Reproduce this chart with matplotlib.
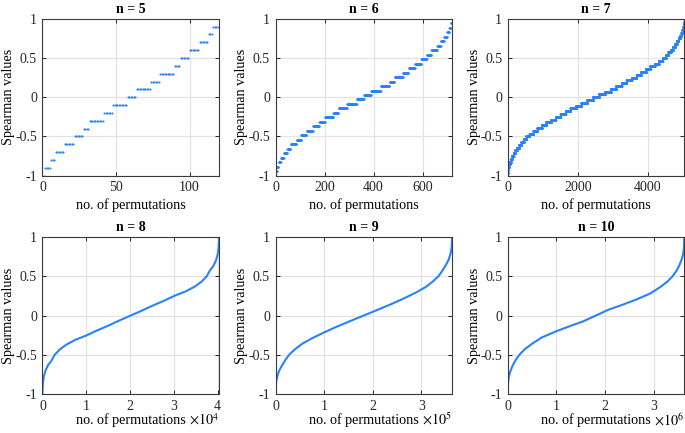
import numpy as np
import matplotlib
matplotlib.use('Agg')
import matplotlib.pyplot as plt

plt.rcParams['font.family'] = ['Liberation Serif', 'DejaVu Serif']
plt.rcParams['mathtext.fontset'] = 'stix'
plt.rcParams['axes.unicode_minus'] = False

LINE_COLOR = '#2b82f5'

# counts of permutations per Spearman level (levels ascending from -1 to 1)
counts5 = [1, 4, 3, 6, 7, 6, 4, 10, 6, 10, 6, 10, 6, 10, 4, 6, 7, 6, 3, 4, 1]
counts6 = [1, 5, 6, 9, 12, 14, 14, 24, 19, 22, 26, 26, 23, 34, 21, 35, 40, 29,
           29, 40, 35, 21, 34, 23, 26, 26, 22, 19, 24, 14, 14, 12, 9, 6, 5, 1]
counts7 = [1, 6, 10, 14, 24, 32, 36, 42, 48, 52, 58, 64, 70, 73, 90, 110, 115, 125,
           125, 141, 129, 140, 145, 140, 160, 150, 165, 170,
           170,
           170, 165, 150, 160, 140, 145, 140, 129, 141, 125, 125, 115, 110, 90, 73,
           70, 64, 58, 52, 48, 42, 36, 32, 24, 14, 10, 6, 1]

# sorted Spearman curve for large n (x in units of 1e4 / 1e5 / 1e6)
x8 = [0, 0.003, 0.01, 0.03, 0.07, 0.13, 0.2, 0.28, 0.4, 0.55, 0.75, 1.0, 1.25, 1.5,
      1.75, 2.016, 2.282, 2.532, 2.782, 3.032, 3.282, 3.482, 3.632, 3.752, 3.832,
      3.902, 3.962, 4.002, 4.022, 4.029, 4.032]
y8 = [-1, -0.93, -0.86, -0.78, -0.70, -0.63, -0.58, -0.5, -0.43, -0.37, -0.31,
      -0.255, -0.19, -0.13, -0.065, 0, 0.065, 0.13, 0.19, 0.255, 0.31, 0.37, 0.43,
      0.5, 0.58, 0.63, 0.70, 0.78, 0.86, 0.93, 1]

x9 = [0, 0.002, 0.01, 0.03, 0.07, 0.13, 0.2, 0.28, 0.4, 0.55, 0.75, 1.0, 1.25, 1.5,
      1.8144, 2.1288, 2.3788, 2.6288, 2.8788, 3.0788, 3.2288, 3.3488, 3.4288, 3.4988,
      3.5588, 3.5988, 3.6188, 3.6268, 3.6288]
y9 = [-1, -0.93, -0.86, -0.79, -0.71, -0.64, -0.57, -0.5, -0.43, -0.36, -0.29,
      -0.215, -0.145, -0.08, 0, 0.08, 0.145, 0.215, 0.29, 0.36, 0.43, 0.5, 0.57,
      0.64, 0.71, 0.79, 0.86, 0.93, 1]

x10 = [0, 0.001, 0.005, 0.02, 0.05, 0.1, 0.16, 0.24, 0.35, 0.5, 0.7, 1.0, 1.3, 1.55,
       1.8144, 2.0744, 2.3288, 2.6288, 2.9288, 3.1288, 3.2788, 3.3888, 3.4688,
       3.5288, 3.5788, 3.6088, 3.6238, 3.6278, 3.6288]
y10 = [-1, -0.93, -0.87, -0.79, -0.72, -0.64, -0.57, -0.5, -0.43, -0.36, -0.28,
       -0.2, -0.13, -0.075, 0, 0.075, 0.13, 0.2, 0.28, 0.36, 0.43, 0.5, 0.57, 0.64,
       0.72, 0.79, 0.87, 0.93, 1]

panels = [
    {'n': 5, 'counts': counts5, 'xmax': 120, 'xticks': [0, 50, 100]},
    {'n': 6, 'counts': counts6, 'xmax': 720, 'xticks': [0, 200, 400, 600]},
    {'n': 7, 'counts': counts7, 'xmax': 5040, 'xticks': [0, 2000, 4000]},
    {'n': 8, 'x': x8, 'y': y8, 'xmax': 4.032, 'xticks': [0, 1, 2, 3, 4], 'exp': 4},
    {'n': 9, 'x': x9, 'y': y9, 'xmax': 3.6288, 'xticks': [0, 1, 2, 3], 'exp': 5},
    {'n': 10, 'x': x10, 'y': y10, 'xmax': 3.6288, 'xticks': [0, 1, 2, 3], 'exp': 6},
]


def style_axes(ax, p, top_row):
    ax.set_xlim(0, p['xmax'])
    ax.set_ylim(-1, 1)
    ax.set_xticks(p['xticks'])
    ax.set_yticks([-1, -0.5, 0, 0.5, 1])
    ax.set_yticklabels(['-1', '-0.5', '0', '0.5', '1'])
    ax.grid(True, color='#e3e3e3', linewidth=0.9)
    ax.set_axisbelow(True)
    ax.tick_params(direction='in', length=3, width=0.7, top=True, right=True,
                   labelsize=10, pad=4, colors='#262626')
    for s in ax.spines.values():
        s.set_color('#3a3a3a')
        s.set_linewidth(0.8)
    ax.set_title('n = %d' % p['n'], fontsize=10, fontweight='bold', pad=4)
    ax.set_ylabel('Spearman values', fontsize=10.2, va='center')
    ax.yaxis.set_label_coords(-0.19, 0.5)
    ax.set_xlabel('no. of permutations', fontsize=10.2, va='center')
    if top_row:
        ax.xaxis.set_label_coords(0.5, -0.19)
    else:
        ax.xaxis.set_label_coords(0.5, -0.165)
        ax.text(1.0, -0.165, r'$\times10^{%d}$' % p['exp'], transform=ax.transAxes,
                ha='right', va='center', fontsize=10.2)


fig = plt.figure(figsize=(6.85, 4.33), dpi=100)
lefts = [0.062, 0.4022, 0.7412]
bottoms = [0.5942, 0.0901]
w, h = 0.2577, 0.3625

for i, p in enumerate(panels):
    row, col = divmod(i, 3)
    ax = fig.add_axes([lefts[col], bottoms[row], w, h])
    if 'counts' in p:
        counts = np.array(p['counts'])
        levels = np.linspace(-1, 1, len(counts))
        yvals = np.repeat(levels, counts)
        xvals = np.arange(1, len(yvals) + 1)
        ax.plot(xvals, yvals, linestyle='none', marker='.', ms=3.0,
                markeredgewidth=0, color=LINE_COLOR)
    else:
        ax.plot(p['x'], p['y'], color=LINE_COLOR, linewidth=1.5)
    style_axes(ax, p, row == 0)

fig.savefig('out.png', dpi=100)
